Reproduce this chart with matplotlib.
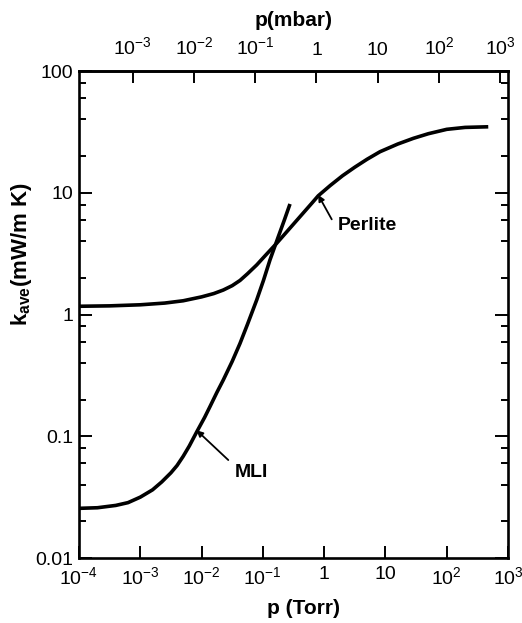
import matplotlib
matplotlib.use('Agg')
import matplotlib.pyplot as plt
from matplotlib.ticker import FixedLocator, NullLocator

plt.rcParams['font.family'] = ['Liberation Sans', 'DejaVu Sans']
plt.rcParams['mathtext.fontset'] = 'custom'
plt.rcParams['mathtext.rm'] = 'Liberation Sans'
plt.rcParams['mathtext.bf'] = 'Liberation Sans:bold'

# pressure (Torr) and mean conductivity (mW/m K)
perlite_p = [1.0e-4, 3.16e-4, 1.0e-3, 2.51e-3, 5.01e-3, 0.01, 0.0158, 0.0226, 0.0316,
             0.0424, 0.0562, 0.0793, 0.1122, 0.168, 0.251, 0.398, 0.631, 0.80,
             1.259, 1.995, 3.162, 5.01, 8.15, 15.85, 28.5, 50.1, 100, 199.5, 476]
perlite_k = [1.169, 1.178, 1.202, 1.242, 1.297, 1.396, 1.486, 1.589, 1.726,
             1.905, 2.163, 2.553, 3.09, 3.846, 4.842, 6.31, 8.22, 9.44,
             11.48, 13.8, 16.22, 18.84, 21.73, 25.12, 27.99, 30.55, 33.19, 34.43, 34.83]

mli_p = [1.0e-4, 2.0e-4, 3.98e-4, 6.31e-4, 1.0e-3, 1.585e-3, 2.24e-3, 3.16e-3, 3.98e-3,
         5.01e-3, 6.31e-3, 8.32e-3, 0.01122, 0.0137, 0.01778, 0.0226, 0.0316, 0.0424,
         0.0562, 0.0793, 0.1023, 0.1306, 0.1786, 0.2239, 0.2773]
mli_k = [0.02559, 0.02588, 0.02704, 0.02851, 0.03162, 0.03631, 0.04217, 0.0501, 0.0575,
         0.0684, 0.0832, 0.1084, 0.1429, 0.175, 0.2291, 0.2897, 0.412, 0.579,
         0.832, 1.315, 1.905, 2.805, 4.355, 5.957, 8.091]

torr_ticks = [1e-4, 1e-3, 1e-2, 1e-1, 1, 10, 100, 1000]
torr_labels = [r'$\mathregular{10^{-4}}$', r'$\mathregular{10^{-3}}$', r'$\mathregular{10^{-2}}$',
               r'$\mathregular{10^{-1}}$', '1', '10', r'$\mathregular{10^{2}}$', r'$\mathregular{10^{3}}$']
mbar_ticks = [1e-3, 1e-2, 1e-1, 1, 10, 100, 1000]
mbar_labels = torr_labels[1:]
k_ticks = [0.01, 0.1, 1, 10, 100]
k_labels = ['0.01', '0.1', '1', '10', '100']
k_minor = [m * 10.0 ** e for e in range(-2, 2) for m in (2, 4, 6, 8)]

MBAR_PER_TORR = 1.33322

fig = plt.figure(figsize=(5.22, 6.23), dpi=100)
ax = fig.add_axes([0.1513, 0.1043, 0.8219, 0.7817])

ax.plot(perlite_p, perlite_k, color='black', lw=2.6, solid_capstyle='butt', solid_joinstyle='round')
ax.plot(mli_p, mli_k, color='black', lw=2.6, solid_capstyle='butt', solid_joinstyle='round')

ax.set_xscale('log')
ax.set_yscale('log')
ax.set_xlim(1e-4, 1e3)
ax.set_ylim(0.01, 100)

ax.xaxis.set_major_locator(FixedLocator(torr_ticks))
ax.set_xticklabels(torr_labels)
ax.xaxis.set_minor_locator(NullLocator())
ax.yaxis.set_major_locator(FixedLocator(k_ticks))
ax.set_yticklabels(k_labels)
ax.yaxis.set_minor_locator(FixedLocator(k_minor))

ax.tick_params(which='both', direction='in', width=1.4, labelsize=14)
ax.tick_params(axis='x', which='major', length=8.5, pad=6, top=False)
ax.tick_params(axis='y', which='major', length=9.5, right=True, pad=4)
ax.tick_params(axis='y', which='minor', length=5, right=True)
for s in ax.spines.values():
    s.set_linewidth(1.9)

sec = ax.secondary_xaxis('top', functions=(lambda t: t * MBAR_PER_TORR,
                                           lambda m: m / MBAR_PER_TORR))
sec.xaxis.set_major_locator(FixedLocator(mbar_ticks))
sec.set_xticklabels(mbar_labels)
sec.xaxis.set_minor_locator(NullLocator())
sec.tick_params(which='major', direction='in', length=8.5, width=1.4, labelsize=14, pad=9)
sec.spines['top'].set_linewidth(1.9)
sec.set_xlabel('p(mbar)', fontsize=15, fontweight='bold', labelpad=8)

ax.set_xlabel('p (Torr)', fontsize=15, fontweight='bold')
ax.xaxis.set_label_coords(0.524, -0.085)
ax.set_ylabel(r'$\mathbf{k}_{\mathbf{ave}}$(mW/m K)', fontsize=16, fontweight='bold')
ax.yaxis.set_label_coords(-0.105, 0.624)

arrow = dict(arrowstyle='-|>', lw=1.3, color='black', mutation_scale=9,
             shrinkA=0, shrinkB=0)
ax.annotate('', xy=(0.80, 9.6), xytext=(1.33, 6.05), arrowprops=arrow)
ax.text(1.68, 5.43, 'Perlite', fontsize=14, fontweight='bold', va='center', ha='left')
ax.annotate('', xy=(0.0083, 0.112), xytext=(0.0273, 0.0638), arrowprops=arrow)
ax.text(0.035, 0.0508, 'MLI', fontsize=14, fontweight='bold', va='center', ha='left')

fig.savefig('out.png', dpi=100)
